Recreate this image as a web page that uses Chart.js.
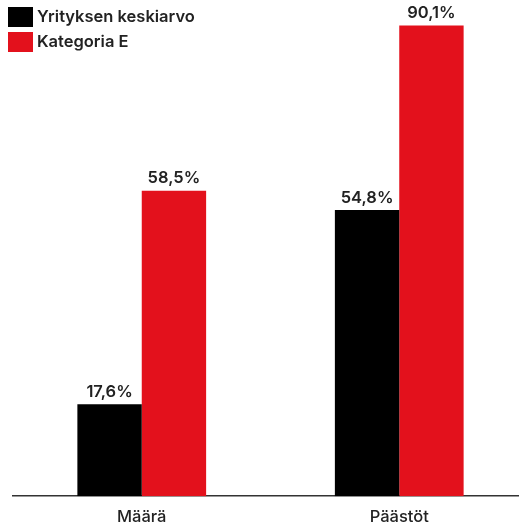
<!DOCTYPE html>
<html>
<head>
<meta charset="utf-8">
<script src="https://cdn.jsdelivr.net/npm/chart.js@4"></script>
<style>
  html, body { margin: 0; padding: 0; background: #fff; overflow: hidden; }
  #wrap { width: 528px; height: 538px; }
</style>
</head>
<body>
<div id="wrap"><canvas id="chart"></canvas></div>
<script>
const categories = ['Määrä', 'Päästöt'];
const seriesNames = ['Yrityksen keskiarvo', 'Kategoria E'];
const seriesColors = ['#000000', '#E3111C'];
const companyAvg = [17.6, 54.8];
const categoryE = [58.5, 90.1];

const fontFamily = 'Inter, "Open Sans", sans-serif';

// value labels above bars, Finnish decimal comma
const valueLabels = {
  id: 'valueLabels',
  afterDatasetsDraw(chart) {
    const ctx = chart.ctx;
    ctx.save();
    ctx.font = '600 16.5px ' + fontFamily;
    ctx.fillStyle = '#222';
    ctx.textAlign = 'center';
    ctx.textBaseline = 'bottom';
    chart.data.datasets.forEach((ds, i) => {
      chart.getDatasetMeta(i).data.forEach((bar, j) => {
        const txt = ds.data[j].toFixed(1).replace('.', ',') + '%';
        ctx.fillText(txt, bar.x, bar.y - 4);
      });
    });
    ctx.restore();
  }
};

// legend in the top-left corner, over the plot
const cornerLegend = {
  id: 'cornerLegend',
  afterDraw(chart) {
    const ctx = chart.ctx;
    ctx.save();
    ctx.font = '600 16.5px ' + fontFamily;
    ctx.textBaseline = 'middle';
    ctx.textAlign = 'left';
    chart.data.datasets.forEach((ds, i) => {
      const y = 7 + i * 25;
      ctx.fillStyle = ds.backgroundColor;
      ctx.fillRect(8, y, 25, 20);
      ctx.fillStyle = '#222';
      ctx.fillText(ds.label, 37, y + 10);
    });
    ctx.restore();
  }
};

new Chart(document.getElementById('chart').getContext('2d'), {
  type: 'bar',
  data: {
    labels: categories,
    datasets: [{
      label: seriesNames[0],
      data: companyAvg,
      backgroundColor: seriesColors[0],
    }, {
      label: seriesNames[1],
      data: categoryE,
      backgroundColor: seriesColors[1],
    }]
  },
  options: {
    responsive: true,
    maintainAspectRatio: false,
    animation: false,
    layout: { padding: { left: 13, right: 0, top: 0, bottom: 0 } },
    datasets: {
      bar: { categoryPercentage: 0.5, barPercentage: 1.0 }
    },
    scales: {
      x: {
        grid: { display: false, drawTicks: false },
        border: { display: true, color: '#333', width: 1.5 },
        ticks: { color: '#222', font: { family: fontFamily, size: 16.5, weight: 500 }, padding: 11 }
      },
      y: {
        display: false,
        min: 0,
        max: 95
      }
    },
    plugins: {
      legend: { display: false },
      tooltip: { enabled: false }
    }
  },
  plugins: [valueLabels, cornerLegend]
});
</script>
</body>
</html>
